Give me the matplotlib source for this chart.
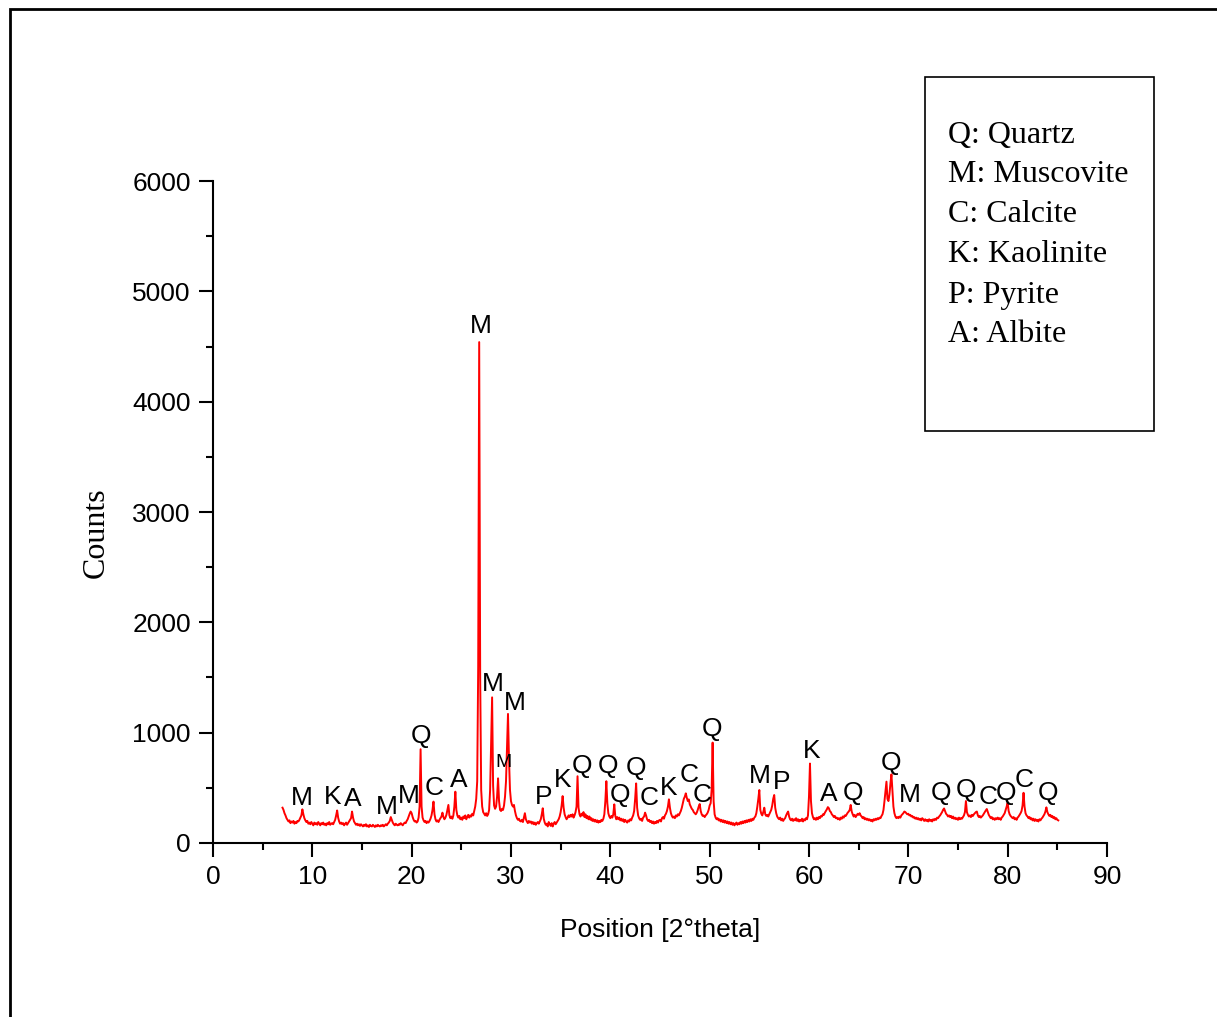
import numpy as np
import matplotlib.pyplot as plt
from matplotlib.patches import Rectangle
from matplotlib.ticker import MultipleLocator

# diffractogram, counts sampled every 0.1 deg 2theta starting at 7.0
# (one row per degree)
counts = [
    320, 300, 270, 250, 225, 210, 195, 205, 180, 195,   # 7
    185, 200, 175, 190, 180, 200, 195, 210, 230, 250,   # 8
    305, 260, 225, 205, 190, 200, 175, 185, 170, 190,   # 9
    175, 160, 185, 170, 180, 165, 190, 175, 160, 180,   # 10
    170, 185, 165, 175, 160, 180, 170, 190, 165, 175,   # 11
    180, 170, 190, 210, 250, 295, 230, 195, 175, 185,   # 12
    170, 180, 160, 175, 185, 165, 180, 195, 210, 225,   # 13
    285, 230, 195, 180, 165, 175, 160, 170, 155, 170,   # 14
    160, 150, 165, 155, 170, 150, 160, 145, 165, 155,   # 15
    150, 165, 155, 145, 160, 150, 165, 155, 150, 160,   # 16
    155, 165, 150, 160, 170, 160, 175, 185, 200, 235,   # 17
    210, 185, 170, 160, 175, 165, 160, 170, 165, 180,   # 18
    170, 160, 175, 185, 180, 200, 215, 240, 265, 285,   # 19
    270, 235, 210, 195, 200, 185, 195, 230, 330, 850,   # 20
    330, 230, 205, 190, 200, 180, 195, 185, 200, 220,   # 21
    250, 300, 375, 260, 215, 195, 205, 190, 210, 225,   # 22
    240, 275, 235, 215, 230, 255, 300, 345, 250, 225,   # 23
    240, 220, 250, 330, 465, 300, 250, 230, 245, 215,   # 24
    230, 210, 240, 225, 250, 215, 235, 255, 230, 250,   # 25
    240, 265, 250, 290, 330, 400, 560, 1600, 4540, 1500,  # 26
    480, 330, 280, 265, 250, 270, 245, 260, 300, 480,   # 27
    900, 1320, 520, 340, 310, 330, 420, 586, 380, 300,  # 28
    290, 310, 300, 340, 420, 560, 850, 1170, 760, 480,  # 29
    380, 345, 330, 345, 290, 250, 225, 210, 220, 200,   # 30
    195, 210, 190, 230, 270, 215, 195, 180, 200, 185,   # 31
    195, 175, 190, 170, 185, 165, 180, 190, 175, 195,   # 32
    215, 260, 315, 220, 185, 165, 175, 150, 190, 170,   # 33
    155, 180, 150, 175, 190, 170, 185, 200, 215, 240,   # 34
    280, 340, 425, 320, 260, 235, 215, 230, 250, 235,   # 35
    255, 240, 260, 230, 250, 280, 330, 605, 320, 260,   # 36
    240, 265, 250, 280, 235, 260, 225, 245, 215, 240,   # 37
    210, 225, 200, 215, 195, 210, 190, 205, 185, 200,   # 38
    190, 210, 200, 220, 260, 380, 560, 360, 270, 240,   # 39
    225, 245, 230, 260, 350, 245, 215, 235, 215, 230,   # 40
    205, 220, 200, 215, 190, 210, 195, 185, 205, 195,   # 41
    215, 205, 230, 250, 290, 400, 540, 320, 250, 225,   # 42
    210, 220, 200, 230, 240, 275, 250, 215, 200, 210,   # 43
    190, 200, 180, 195, 175, 190, 180, 200, 185, 205,   # 44
    210, 195, 225, 235, 220, 250, 265, 290, 330, 396,   # 45
    320, 270, 245, 230, 240, 225, 250, 240, 260, 250,   # 46
    270, 290, 320, 360, 400, 420, 450, 410, 380, 395,   # 47
    350, 330, 310, 300, 280, 270, 260, 275, 300, 330,   # 48
    353, 290, 260, 245, 250, 235, 250, 260, 275, 300,   # 49
    340, 360, 480, 910, 380, 260, 230, 215, 225, 205,   # 50
    215, 195, 210, 190, 205, 185, 200, 180, 195, 175,   # 51
    190, 170, 185, 165, 180, 160, 175, 185, 165, 180,   # 52
    170, 190, 175, 195, 180, 200, 185, 205, 190, 210,   # 53
    195, 215, 200, 220, 210, 230, 240, 270, 330, 400,   # 54
    480, 300, 265, 250, 280, 320, 260, 245, 255, 240,   # 55
    260, 280, 300, 340, 400, 435, 320, 270, 240, 225,   # 56
    215, 230, 205, 220, 200, 215, 225, 250, 270, 285,   # 57
    240, 215, 205, 220, 200, 215, 205, 225, 200, 215,   # 58
    195, 210, 200, 220, 195, 215, 205, 225, 215, 250,   # 59
    420, 720, 380, 270, 235, 215, 225, 210, 230, 215,   # 60
    235, 225, 245, 240, 260, 255, 275, 290, 305, 325,   # 61
    315, 290, 280, 260, 250, 235, 245, 225, 230, 215,   # 62
    225, 210, 230, 220, 240, 230, 250, 245, 260, 275,   # 63
    285, 300, 345, 285, 260, 240, 255, 235, 250, 265,   # 64
    255, 270, 250, 240, 225, 235, 215, 225, 210, 220,   # 65
    205, 215, 200, 210, 195, 215, 205, 220, 210, 225,   # 66
    215, 230, 225, 245, 260, 300, 380, 470, 556, 400,   # 67
    380, 440, 540, 622, 470, 330, 270, 240, 225, 235,   # 68
    225, 240, 230, 250, 260, 270, 285, 280, 270, 260,   # 69
    265, 250, 255, 240, 245, 230, 235, 220, 230, 215,   # 70
    225, 210, 220, 205, 225, 215, 200, 215, 200, 210,   # 71
    195, 215, 200, 210, 195, 215, 205, 220, 210, 230,   # 72
    225, 240, 250, 265, 280, 300, 313, 290, 265, 255,   # 73
    240, 250, 235, 245, 225, 240, 220, 230, 215, 225,   # 74
    210, 230, 215, 225, 220, 235, 250, 280, 380, 280,   # 75
    255, 240, 250, 235, 255, 245, 260, 270, 280, 285,   # 76
    250, 235, 245, 230, 240, 250, 265, 280, 295, 308,   # 77
    280, 255, 240, 225, 235, 215, 225, 210, 225, 215,   # 78
    230, 215, 225, 210, 230, 240, 255, 270, 300, 330,   # 79
    365, 290, 260, 245, 235, 225, 235, 215, 225, 210,   # 80
    230, 240, 255, 270, 290, 340, 455, 330, 270, 250,   # 81
    240, 225, 235, 215, 225, 205, 220, 200, 215, 200,   # 82
    210, 195, 215, 205, 220, 230, 245, 260, 285, 323,   # 83
    280, 260, 245, 255, 235, 245, 225, 235, 215, 225,   # 84
    210, 205,                                           # 85
]
two_theta = np.round(7.0 + 0.1 * np.arange(len(counts)), 1)

# phase labels placed above the peaks
label_text = ['M', 'K', 'A', 'M', 'M', 'Q', 'C', 'A', 'M', 'M', 'M', 'M',
              'P', 'K', 'Q', 'Q', 'Q', 'Q', 'C', 'K', 'C', 'C', 'Q', 'M',
              'P', 'K', 'A', 'Q', 'Q', 'M', 'Q', 'Q', 'C', 'Q', 'C', 'Q']
label_x = [8.96, 12.08, 14.10, 17.52, 19.74, 20.95, 22.25, 24.77, 27.0, 28.2,
           29.2, 30.41, 33.32, 35.24, 37.15, 39.77, 40.97, 42.58, 43.89, 45.9,
           47.92, 49.23, 50.24, 55.07, 57.29, 60.31, 62.02, 64.43, 68.26,
           70.17, 73.29, 75.81, 78.02, 79.83, 81.65, 84.06]
label_y = [408, 417, 399, 326, 426, 970, 498, 571, 4686, 1441, 734, 1269,
           417, 571, 698, 698, 435, 680, 408, 498, 616, 435, 1033, 607,
           553, 834, 444, 453, 725, 435, 453, 480, 417, 453, 571, 453]

phases = ['Q: Quartz', 'M: Muscovite', 'C: Calcite', 'K: Kaolinite',
          'P: Pyrite', 'A: Albite']

fig = plt.figure(figsize=(12.17, 10.17), dpi=100)
ax = fig.add_axes([0.175, 0.1711, 0.7346, 0.6509])

ax.plot(two_theta, counts, color='#ff0000', lw=1.4)

for t, x, y in zip(label_text, label_x, label_y):
    size = 14 if (t == 'M' and x == 29.2) else 19
    ax.text(x, y, t, ha='center', va='center', fontsize=size,
            family='Liberation Sans')

ax.set_xlim(0, 90)
ax.set_ylim(0, 6000)
ax.xaxis.set_major_locator(MultipleLocator(10))
ax.xaxis.set_minor_locator(MultipleLocator(5))
ax.yaxis.set_major_locator(MultipleLocator(1000))
ax.yaxis.set_minor_locator(MultipleLocator(500))
for side in ['top', 'right']:
    ax.spines[side].set_visible(False)
for side in ['left', 'bottom']:
    ax.spines[side].set_linewidth(1.5)
ax.tick_params(which='major', direction='out', length=10, width=1.5,
               labelsize=19, pad=6)
ax.tick_params(which='minor', direction='out', length=5, width=1.5)
for lab in ax.get_xticklabels() + ax.get_yticklabels():
    lab.set_family('Liberation Sans')

fig.text(0.5426, 0.0855, 'Position [2°theta]', ha='center', va='center',
         fontsize=19, family='Liberation Sans')
fig.text(0.079, 0.4765, 'Counts', ha='center', va='center', rotation=90,
         fontsize=23, family='Liberation Serif')

# phase key
fig.patches.append(Rectangle((0.760, 0.5762), 0.1882, 0.348, fill=False,
                             lw=1.2, ec='black', transform=fig.transFigure))
for i, name in enumerate(phases):
    fig.text(0.779, 1 - (135 + 40 * i) / 1017, name, ha='left', va='center',
             fontsize=23, family='Liberation Serif')

# frame round the figure
fig.patches.append(Rectangle((0.0082, -0.1), 1.2, 1.0912, fill=False,
                             lw=2, ec='black', transform=fig.transFigure))

fig.savefig('out.png', dpi=100)
